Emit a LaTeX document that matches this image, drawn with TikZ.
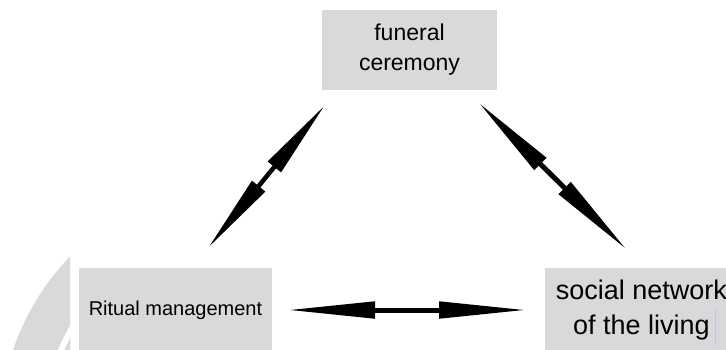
\documentclass[tikz,border=0pt]{standalone}
\usepackage{fontspec}
\setmainfont{Liberation Sans}
\usetikzlibrary{positioning, arrows.meta}

\begin{document}
\begin{tikzpicture}[
    x=1pt, y=-1pt,
    box/.style={rectangle, fill=gray!30, minimum width=193pt, minimum height=84pt, align=center, inner sep=0pt},
    arr/.style={{Triangle[length=#1, width=16pt]}-{Triangle[length=#1, width=16pt]}, line width=5pt},
    arr/.default=88pt
]
\path[use as bounding box] (0,0) rectangle (726,349);
\clip (0,0) rectangle (726,349);
\fill[white] (0,0) rectangle (726,349);

% background arcs
\begin{scope}
  \clip (0,0) rectangle (70,349);
  \fill[gray!30] (250,430) circle[radius=250];
  \fill[white] (250,430) circle[radius=208];
  \fill[gray!30] (250,430) circle[radius=202];
\end{scope}

% Boxes
\node[box, minimum width=175pt, minimum height=80pt, font=\fontsize{23}{30}\selectfont] (funeral) at (409.5,50) {funeral\\ceremony};
\node[box, font=\fontsize{20}{24}\selectfont] (ritual) at (175.5,310) {Ritual management};
\node[box, font=\fontsize{27}{35}\selectfont] (social) at (641.5,310) {social network\\of the living};
\draw[blue!25, line width=1pt] (715,310) -- (715,345);

% Arrow ends
\coordinate (funeralL) at (325,105);
\coordinate (ritualT) at (208,248);
\coordinate (funeralR) at (478,102);
\coordinate (socialT) at (627,250);
\coordinate (ritualR) at (287,310);
\coordinate (socialL) at (527,310);

% Connections
\draw[arr=80pt, line width=4.5pt] (funeralL) -- (ritualT);
\draw[arr] (funeralR) -- (socialT);
\draw[arr] (ritualR) -- (socialL);

\end{tikzpicture}
\end{document}
